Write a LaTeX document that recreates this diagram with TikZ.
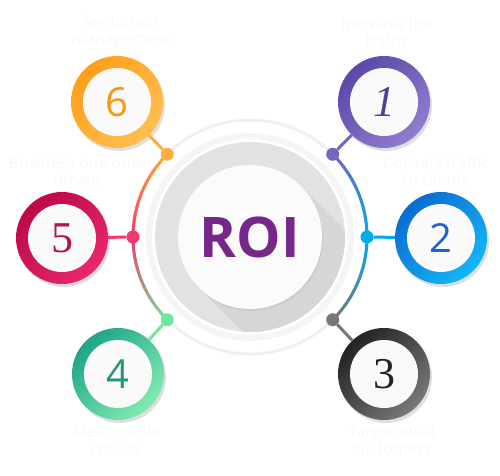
\documentclass[tikz,border=0pt]{standalone}
\usepackage{fontspec}
\usepackage{xcolor}
\usepackage{tikz}
\usetikzlibrary{calc, shadows}
\newfontfamily\roifont{Open Sans}
\newfontfamily\labfont{Open Sans}
\newfontfamily\serfont{Liberation Serif}
\definecolor{rorange}{RGB}{255,172,60}
\definecolor{rpink}{RGB}{245,55,110}
\definecolor{rgreen}{RGB}{110,230,160}
\definecolor{rpurple}{RGB}{120,100,190}
\definecolor{rblue}{RGB}{0,170,240}
\definecolor{rgray}{RGB}{120,120,120}
\definecolor{discgray}{RGB}{226,226,228}
\definecolor{discshade}{RGB}{214,214,216}
\definecolor{roipurple}{RGB}{118,40,138}
\definecolor{labgray}{RGB}{248,248,248}
\definecolor{sixtop}{RGB}{255,158,28}
\definecolor{sixbot}{RGB}{255,192,80}
\definecolor{sixnum}{RGB}{250,150,20}
\definecolor{onetop}{RGB}{92,72,168}
\definecolor{onebot}{RGB}{145,125,205}
\definecolor{onenum}{RGB}{85,60,150}
\definecolor{fivetop}{RGB}{188,8,72}
\definecolor{fivebot}{RGB}{232,40,110}
\definecolor{fivenum}{RGB}{180,20,70}
\definecolor{twotop}{RGB}{10,108,210}
\definecolor{twobot}{RGB}{20,182,245}
\definecolor{twonum}{RGB}{30,100,200}
\definecolor{fourtop}{RGB}{30,165,138}
\definecolor{fourbot}{RGB}{130,235,175}
\definecolor{fournum}{RGB}{35,150,125}
\definecolor{threetop}{RGB}{35,35,35}
\definecolor{threebot}{RGB}{120,120,120}
\definecolor{threenum}{RGB}{35,35,35}

\begin{document}
\begin{tikzpicture}[x=1pt, y=1pt, line cap=butt,
  bub/.style={circle, minimum size=92pt, inner sep=0pt, top color=#1top, bottom color=#1bot, shading angle=45, drop shadow={opacity=.25, shadow xshift=2pt, shadow yshift=-3pt}},
  numdisc/.style={circle, minimum size=68pt, inner sep=0pt, fill=white!96!gray, text=#1num},
  dot/.style={circle, minimum size=13pt, inner sep=0pt, fill=#1},
  link/.style={line width=3pt, draw=#1},
  lab/.style={text=labgray, align=center, font=\labfont\fontsize{16}{17}\selectfont}]
\useasboundingbox (0,0) rectangle (500,475);
\coordinate (o) at (250,238);

\draw[gray!12, line width=3pt] ([shift={(45:117)}]o) arc (45:135:117);
\draw[gray!12, line width=3pt] ([shift={(225:117)}]o) arc (225:315:117);
\foreach \a in {135,...,179}{
  \pgfmathtruncatemacro\p{(\a-135)*100/45}
  \draw[rpink!\p!rorange, line width=3pt] ([shift={(\a:117)}]o) arc (\a:\a+1.3:117);
}
\foreach \a in {180,...,224}{
  \pgfmathtruncatemacro\p{(\a-180)*100/45}
  \draw[rgreen!\p!rpink, line width=3pt] ([shift={(\a:117)}]o) arc (\a:\a+1.3:117);
}
\foreach \a in {0,...,44}{
  \pgfmathtruncatemacro\p{\a*100/45}
  \draw[rpurple!\p!rblue, line width=3pt] ([shift={(\a:117)}]o) arc (\a:\a+1.3:117);
}
\foreach \a in {-45,...,-1}{
  \pgfmathtruncatemacro\p{-\a*100/45}
  \draw[rgray!\p!rblue, line width=3pt] ([shift={(\a:117)}]o) arc (\a:\a+1.3:117);
}

\draw[gray!8, line width=6pt] (o) circle (101);
\fill[discgray] (o) circle (95);
\begin{scope}
\clip (o) circle (95);
\fill[discshade] ($(o)+(45:72)$) -- ++(-45:200) -- ($(o)+(225:72)+(-45:200)$) -- ($(o)+(225:72)$) -- cycle;
\end{scope}
\node[circle, minimum size=144pt, inner sep=0pt, fill=white!97!gray, text=roipurple, drop shadow={opacity=.12, shadow xshift=1pt, shadow yshift=-2pt},
  font=\roifont\bfseries\fontsize{56}{56}\selectfont] at (o) (roi) {ROI};

\node[dot=rorange] at ($(o)+(135:117)$) (d6) {};
\node[dot=rpurple] at ($(o)+(45:117)$) (d1) {};
\node[dot=rpink] at ($(o)+(180:117)$) (d5) {};
\node[dot=rblue] at ($(o)+(0:117)$) (d2) {};
\node[dot=rgreen] at ($(o)+(225:117)$) (d4) {};
\node[dot=rgray] at ($(o)+(-45:117)$) (d3) {};

\node[bub=six] at (117,373) (c6) {};
\node[bub=one] at (384,373) (c1) {};
\node[bub=five] at (62,237) (c5) {};
\node[bub=two] at (441,237) (c2) {};
\node[bub=four] at (118,101) (c4) {};
\node[bub=three] at (384,101) (c3) {};

\node[numdisc=six, font=\labfont\fontsize{40}{40}\selectfont] at (c6) (n6) {6};
\node[numdisc=one, font=\serfont\itshape\fontsize{44}{44}\selectfont] at (c1) (n1) {1};
\node[numdisc=five, font=\serfont\fontsize{44}{44}\selectfont] at (c5) (n5) {5};
\node[numdisc=two, font=\labfont\fontsize{40}{40}\selectfont] at (c2) (n2) {2};
\node[numdisc=four, font=\labfont\fontsize{40}{40}\selectfont] at (c4) (n4) {4};
\node[numdisc=three, font=\serfont\fontsize{44}{44}\selectfont] at (c3) (n3) {3};

\draw[link=rorange] (c6) -- (d6);
\draw[link=rpurple] (c1) -- (d1);
\draw[link=rpink] (c5) -- (d5);
\draw[link=rblue] (c2) -- (d2);
\draw[link=rgreen] (c4) -- (d4);
\draw[link=rgray] (c3) -- (d3);

\node[lab] at (121,443) (l6) {Sentiment\\management};
\node[lab] at (387,443) (l1) {Increase the\\traffic};
\node[lab] at (77,304) (l5) {Business outcome\\driven};
\node[lab] at (436,304) (l2) {Convert traffic\\to clients};
\node[lab] at (116,35) (l4) {Measurable\\results};
\node[lab] at (392,35) (l3) {Target ideal\\customers};
\end{tikzpicture}
\end{document}
